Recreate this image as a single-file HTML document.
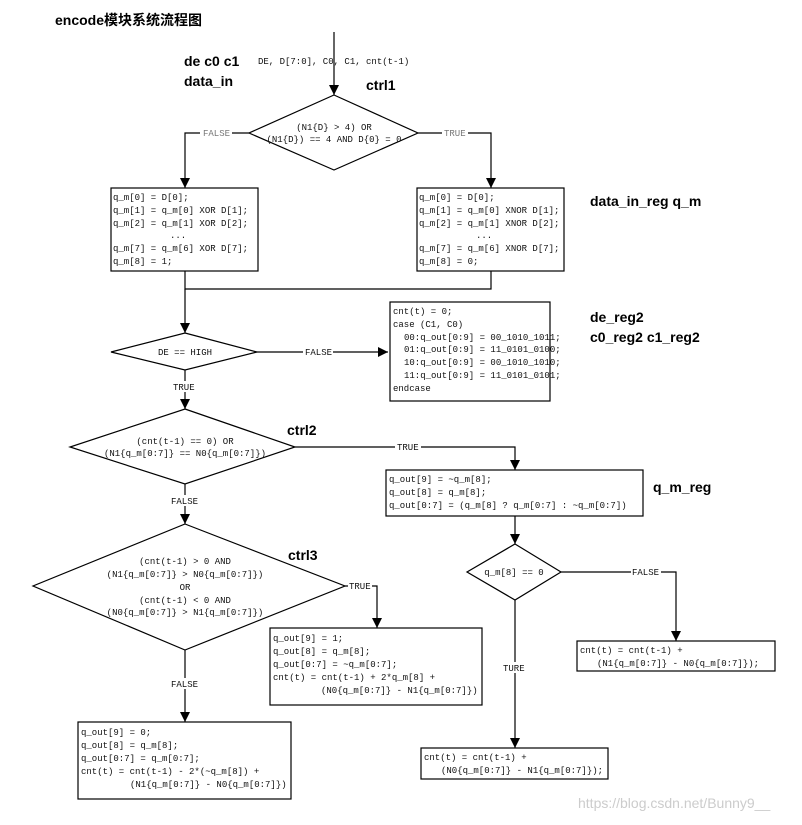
<!DOCTYPE html>
<html><head><meta charset="utf-8"><style>
body{margin:0;background:#fff}
svg text{font-family:"Liberation Mono","Noto Sans CJK SC",monospace;font-size:9px;fill:#111}
.b{font-family:"Liberation Sans","Noto Sans CJK SC",sans-serif;font-weight:bold;font-size:14px;fill:#000}
.l{fill:#777}
</style></head><body>
<svg width="802" height="820" viewBox="0 0 802 820" xmlns="http://www.w3.org/2000/svg">
<defs><marker id="a" markerWidth="10" markerHeight="10" refX="5" refY="9" orient="auto-start-reverse" markerUnits="userSpaceOnUse"><path d="M0,0 L10,0 L5,9 z" fill="#000" transform="rotate(-90 5 5)"/></marker>
<marker id="d" viewBox="0 0 10 10" markerWidth="10" markerHeight="10" refX="10" refY="5" orient="auto" markerUnits="userSpaceOnUse"><path d="M0,0 L10,5 L0,10 z" fill="#000"/></marker></defs>
<g stroke="#000" stroke-width="1.2" fill="none">
<line x1="334" y1="32" x2="334" y2="95" marker-end="url(#d)"/>
<polygon points="334,95 418,133 334,170 249,133"/>
<polyline points="249,133 185,133 185,188" marker-end="url(#d)"/>
<polyline points="418,133 491,133 491,188" marker-end="url(#d)"/>
<rect x="111" y="188" width="147" height="83"/>
<rect x="417" y="188" width="147" height="83"/>
<polyline points="185,271 185,289 491,289 491,271"/>
<line x1="185" y1="289" x2="185" y2="333" marker-end="url(#d)"/>
<polygon points="185,333 257,352 185,370 111,352"/>
<line x1="257" y1="352" x2="388" y2="352" marker-end="url(#d)"/>
<rect x="390" y="302" width="160" height="99"/>
<line x1="185" y1="370" x2="185" y2="409" marker-end="url(#d)"/>
<polygon points="185,409 295,447 185,484 70,447"/>
<polyline points="295,447 515,447 515,470" marker-end="url(#d)"/>
<rect x="386" y="470" width="257" height="46"/>
<line x1="515" y1="516" x2="515" y2="544" marker-end="url(#d)"/>
<polygon points="515,544 561,572 515,600 467,572"/>
<polyline points="561,572 676,572 676,641" marker-end="url(#d)"/>
<rect x="577" y="641" width="198" height="30"/>
<line x1="515" y1="600" x2="515" y2="748" marker-end="url(#d)"/>
<rect x="421" y="748" width="187" height="31"/>
<line x1="185" y1="484" x2="185" y2="524" marker-end="url(#d)"/>
<polygon points="185,524 345,586 185,650 33,586"/>
<polyline points="345,586 377,586 377,628" marker-end="url(#d)"/>
<rect x="270" y="628" width="212" height="77"/>
<line x1="185" y1="650" x2="185" y2="722" marker-end="url(#d)"/>
<rect x="78" y="722" width="213" height="77"/>
</g>
<g>
<rect x="200" y="127" width="32" height="11" fill="#fff"/><text x="203" y="136" class="l">FALSE</text>
<rect x="442" y="127" width="26" height="11" fill="#fff"/><text x="444" y="136" class="l">TRUE</text>
<rect x="303" y="346" width="30" height="11" fill="#fff"/><text x="305" y="355">FALSE</text>
<rect x="171" y="381" width="28" height="11" fill="#fff"/><text x="173" y="390">TRUE</text>
<rect x="395" y="441" width="26" height="11" fill="#fff"/><text x="397" y="450">TRUE</text>
<rect x="168" y="495" width="32" height="11" fill="#fff"/><text x="171" y="504">FALSE</text>
<rect x="348" y="580" width="24" height="11" fill="#fff"/><text x="349" y="589">TRUE</text>
<rect x="168" y="678" width="32" height="11" fill="#fff"/><text x="171" y="687">FALSE</text>
<rect x="631" y="566" width="30" height="11" fill="#fff"/><text x="632" y="575">FALSE</text>
<rect x="501" y="662" width="28" height="11" fill="#fff"/><text x="503" y="671">TURE</text>
</g>
<text class="b" x="55" y="25">encode模块系统流程图</text>
<text class="b" x="184" y="66">de c0 c1</text>
<text class="b" x="184" y="86">data_in</text>
<text class="b" x="366" y="90">ctrl1</text>
<text class="b" x="590" y="206">data_in_reg  q_m</text>
<text class="b" x="590" y="322">de_reg2</text>
<text class="b" x="590" y="342">c0_reg2  c1_reg2</text>
<text class="b" x="287" y="435">ctrl2</text>
<text class="b" x="653" y="492">q_m_reg</text>
<text class="b" x="288" y="560">ctrl3</text>
<text x="258" y="64">DE, D[7:0], C0, C1, cnt(t-1)</text>
<text x="334" y="130" text-anchor="middle">(N1{D} &gt; 4) OR</text>
<text x="334" y="142" text-anchor="middle">(N1{D}) == 4 AND D{0} = 0</text>
<g>
<text x="113" y="200">q_m[0] = D[0];</text>
<text x="113" y="213">q_m[1] = q_m[0] XOR D[1];</text>
<text x="113" y="226">q_m[2] = q_m[1] XOR D[2];</text>
<text x="170" y="238">...</text>
<text x="113" y="251">q_m[7] = q_m[6] XOR D[7];</text>
<text x="113" y="264">q_m[8] = 1;</text>
<text x="419" y="200">q_m[0] = D[0];</text>
<text x="419" y="213">q_m[1] = q_m[0] XNOR D[1];</text>
<text x="419" y="226">q_m[2] = q_m[1] XNOR D[2];</text>
<text x="476" y="238">...</text>
<text x="419" y="251">q_m[7] = q_m[6] XNOR D[7];</text>
<text x="419" y="264">q_m[8] = 0;</text>
</g>
<text x="185" y="355" text-anchor="middle">DE == HIGH</text>
<g>
<text x="393" y="314">cnt(t) = 0;</text>
<text x="393" y="327">case (C1, C0)</text>
<text x="404" y="340">00:q_out[0:9] = 00_1010_1011;</text>
<text x="404" y="352">01:q_out[0:9] = 11_0101_0100;</text>
<text x="404" y="365">10:q_out[0:9] = 00_1010_1010;</text>
<text x="404" y="378">11:q_out[0:9] = 11_0101_0101;</text>
<text x="393" y="391">endcase</text>
</g>
<text x="185" y="444" text-anchor="middle">(cnt(t-1) == 0) OR</text>
<text x="185" y="456" text-anchor="middle">(N1{q_m[0:7]} == N0{q_m[0:7]})</text>
<text x="389" y="482">q_out[9] = ~q_m[8];</text>
<text x="389" y="495">q_out[8] = q_m[8];</text>
<text x="389" y="508">q_out[0:7] = (q_m[8] ? q_m[0:7] : ~q_m[0:7])</text>
<text x="514" y="575" text-anchor="middle">q_m[8] == 0</text>
<text x="580" y="653">cnt(t) = cnt(t-1) +</text>
<text x="597" y="666">(N1{q_m[0:7]}  - N0{q_m[0:7]});</text>
<text x="424" y="760">cnt(t) = cnt(t-1) +</text>
<text x="441" y="773">(N0{q_m[0:7]} - N1{q_m[0:7]});</text>
<text x="185" y="564" text-anchor="middle">(cnt(t-1) &gt; 0 AND</text>
<text x="185" y="577" text-anchor="middle">(N1{q_m[0:7]} &gt; N0{q_m[0:7]})</text>
<text x="185" y="590" text-anchor="middle">OR</text>
<text x="185" y="603" text-anchor="middle">(cnt(t-1) &lt; 0 AND</text>
<text x="185" y="615" text-anchor="middle">(N0{q_m[0:7]} &gt; N1{q_m[0:7]})</text>
<text x="273" y="641">q_out[9] = 1;</text>
<text x="273" y="654">q_out[8] = q_m[8];</text>
<text x="273" y="667">q_out[0:7] = ~q_m[0:7];</text>
<text x="273" y="680">cnt(t) = cnt(t-1) + 2*q_m[8] +</text>
<text x="321" y="693">(N0{q_m[0:7]} - N1{q_m[0:7]})</text>
<text x="81" y="735">q_out[9] = 0;</text>
<text x="81" y="748">q_out[8] = q_m[8];</text>
<text x="81" y="761">q_out[0:7] = q_m[0:7];</text>
<text x="81" y="774">cnt(t) = cnt(t-1) - 2*(~q_m[8]) +</text>
<text x="130" y="787">(N1{q_m[0:7]} - N0{q_m[0:7]})</text>
<text x="578" y="808" style="font-family:'Liberation Sans',sans-serif;font-size:14px;fill:#ccc">https://blog.csdn.net/Bunny9__</text>
</svg>
</body></html>
